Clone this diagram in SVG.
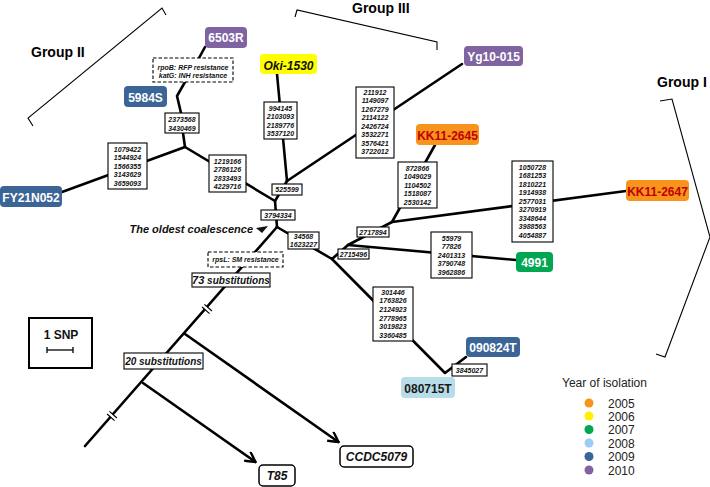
<svg xmlns="http://www.w3.org/2000/svg" width="710" height="487" viewBox="0 0 710 487">
<defs>
<style>
text{font-family:"Liberation Sans",Arial,sans-serif;}
.br{fill:none;stroke:#000;stroke-width:1.1;}
.gl{font-size:14px;font-weight:bold;fill:#000;}
.e{fill:none;stroke:#000;stroke-width:2.6;stroke-linecap:round;stroke-linejoin:round;}
.b{fill:#fff;stroke:#000;stroke-width:1.1;}
.d{fill:#fff;stroke:#000;stroke-width:1.1;stroke-dasharray:3.5,2;}
.n{font-size:7px;font-weight:bold;font-style:italic;text-anchor:middle;fill:#111;}
.lab{font-size:12px;font-weight:bold;text-anchor:middle;fill:#fff;}
.sub{font-size:10px;font-weight:bold;font-style:italic;text-anchor:middle;fill:#111;}
.leg{font-size:12px;fill:#222;}
.pur{fill:#8064a2;}
.blu{fill:#3b6597;}
</style>
<marker id="arr" viewBox="0 0 12 12" refX="11" refY="6" markerWidth="12" markerHeight="12" markerUnits="userSpaceOnUse" orient="auto">
<path d="M1,0.5 L11,6 L1,11.5" fill="none" stroke="#000" stroke-width="2.4"/>
</marker>
</defs>
<rect width="710" height="487" fill="#fff"/>

<g id="brackets">
<polyline class="br" points="33,126 28,118 162,8 166,15"/>
<text class="gl" x="31" y="57">Group II</text>
<polyline class="br" points="295,17 297,10 437,42 437,50"/>
<text class="gl" x="352" y="13">Group III</text>
<polyline class="br" points="660,101 672,99 710,237 665,357 656,354"/>
<text class="gl" x="657" y="87">Group I</text>
</g>

<g id="connectors">
<polyline class="e" points="205,47 199,58"/>
<polyline class="e" points="185,82 177,96 181,113"/>
<polyline class="e" points="183,133 185,147"/>
<polyline class="e" points="185,147 62,192"/>
<polyline class="e" points="185,147 275,201"/>
<polyline class="e" points="277,74 287,181"/>
<polyline class="e" points="287,181 462,64"/>
<polyline class="e" points="287,181 275,201 277,227"/>
<polyline class="e" points="277,227 85,446"/>
<polyline class="e" points="277,227 332,259 348,245 392,222 435,145"/>
<polyline class="e" points="392,222 626,191"/>
<polyline class="e" points="348,245 516,260"/>
<polyline class="e" points="332,259 445,373 466,357"/>
<line class="e" x1="185" y1="334" x2="338.5" y2="442" marker-end="url(#arr)" stroke-linecap="butt"/>
<line class="e" x1="143" y1="383" x2="255.5" y2="462" marker-end="url(#arr)" stroke-linecap="butt"/>
<g transform="translate(207,309) rotate(131.24)">
<rect x="-1.6" y="-3" width="3.2" height="6" fill="#fff"/>
<line x1="-1.8" y1="-5" x2="-1.8" y2="5" stroke="#000" stroke-width="1.2"/>
<line x1="1.8" y1="-5" x2="1.8" y2="5" stroke="#000" stroke-width="1.2"/>
</g>
<g transform="translate(112,416) rotate(131.24)">
<rect x="-1.6" y="-3" width="3.2" height="6" fill="#fff"/>
<line x1="-1.8" y1="-5" x2="-1.8" y2="5" stroke="#000" stroke-width="1.2"/>
<line x1="1.8" y1="-5" x2="1.8" y2="5" stroke="#000" stroke-width="1.2"/>
</g>
</g>

<g id="snp-boxes">
<g id="b2373568"><rect class="b" x="165" y="113" width="34" height="20"/>
<text class="n" x="182" y="122">2373568</text><text class="n" x="182" y="130.5">3430469</text></g>
<g id="b1079422"><rect class="b" x="108" y="143" width="39" height="46"/>
<text class="n" x="127.5" y="151.5">1079422</text><text class="n" x="127.5" y="160">1544924</text><text class="n" x="127.5" y="168.5">1566355</text><text class="n" x="127.5" y="177">3143629</text><text class="n" x="127.5" y="185.5">3659093</text></g>
<g id="b1219166"><rect class="b" x="209" y="155" width="37" height="37"/>
<text class="n" x="227.5" y="163.5">1219166</text><text class="n" x="227.5" y="172">2786126</text><text class="n" x="227.5" y="180.5">2833493</text><text class="n" x="227.5" y="189">4229716</text></g>
<g id="b994145"><rect class="b" x="264" y="102" width="33" height="37"/>
<text class="n" x="280.5" y="110.5">994145</text><text class="n" x="280.5" y="119">2103093</text><text class="n" x="280.5" y="127.5">2189776</text><text class="n" x="280.5" y="136">3537120</text></g>
<g id="b211912"><rect class="b" x="356" y="87" width="38" height="71"/>
<text class="n" x="375" y="94.5">211912</text><text class="n" x="375" y="103">1149097</text><text class="n" x="375" y="111.5">1267279</text><text class="n" x="375" y="120">2114122</text><text class="n" x="375" y="128.5">2426724</text><text class="n" x="375" y="137">3532271</text><text class="n" x="375" y="145.5">3576421</text><text class="n" x="375" y="154">3722012</text></g>
<g id="b525599"><rect class="b" x="272" y="184" width="30" height="11"/>
<text class="n" x="287" y="192">525599</text></g>
<g id="b3794334"><rect class="b" x="261" y="210" width="34" height="10"/>
<text class="n" x="278" y="217.5">3794334</text></g>
<g id="b34568"><rect class="b" x="288" y="232" width="31" height="17"/>
<text class="n" x="303.5" y="238.5">34568</text><text class="n" x="303.5" y="247">1623227</text></g>
<g id="b2715496"><rect class="b" x="338" y="249" width="31" height="10"/>
<text class="n" x="353.5" y="256.5">2715496</text></g>
<g id="b2717894"><rect class="b" x="357" y="227" width="32" height="10"/>
<text class="n" x="373" y="234.5">2717894</text></g>
<g id="b872866"><rect class="b" x="398" y="162" width="39" height="46"/>
<text class="n" x="417.5" y="170.5">872866</text><text class="n" x="417.5" y="179">1049029</text><text class="n" x="417.5" y="187.5">1104502</text><text class="n" x="417.5" y="196">1518087</text><text class="n" x="417.5" y="204.5">2530142</text></g>
<g id="b1050728"><rect class="b" x="512" y="161" width="41" height="81"/>
<text class="n" x="532.5" y="169.5">1050728</text><text class="n" x="532.5" y="178">1681253</text><text class="n" x="532.5" y="186.5">1810221</text><text class="n" x="532.5" y="195">1914938</text><text class="n" x="532.5" y="203.5">2577031</text><text class="n" x="532.5" y="212">3270919</text><text class="n" x="532.5" y="220.5">3348644</text><text class="n" x="532.5" y="229">3988563</text><text class="n" x="532.5" y="237.5">4054887</text></g>
<g id="b55979"><rect class="b" x="431" y="232" width="41" height="46"/>
<text class="n" x="451.5" y="240.5">55979</text><text class="n" x="451.5" y="249">77826</text><text class="n" x="451.5" y="257.5">2401313</text><text class="n" x="451.5" y="266">3790748</text><text class="n" x="451.5" y="274.5">3962886</text></g>
<g id="b301446"><rect class="b" x="373" y="287" width="40" height="54"/>
<text class="n" x="393" y="294.5">301446</text><text class="n" x="393" y="303.2">1763826</text><text class="n" x="393" y="311.9">2124923</text><text class="n" x="393" y="320.6">2778965</text><text class="n" x="393" y="329.3">3019823</text><text class="n" x="393" y="338">3360485</text></g>
<g id="b3845027"><rect class="b" x="452" y="364" width="35" height="12"/>
<text class="n" x="469.5" y="372.5">3845027</text></g>
</g>

<g id="annotations">
<g id="resist1"><rect class="d" x="153" y="58" width="80" height="24"/>
<text class="n" x="193" y="69.5">rpoB: RFP resistance</text><text class="n" x="193" y="77.5">katG: INH resistance</text></g>
<g id="resist2"><rect class="d" x="208" y="252" width="75" height="15"/>
<text class="n" x="245.5" y="262">rpsL: SM resistance</text></g>
<g id="sub73"><rect class="b" x="192" y="273" width="78" height="14"/>
<text class="sub" x="231" y="283.5"><tspan font-size="11">73</tspan> substitutions</text></g>
<g id="sub20"><rect class="b" x="124" y="353" width="79" height="16"/>
<text class="sub" x="163.5" y="364.5">20 substitutions</text></g>
<g id="oldest"><text x="253" y="232.5" font-size="11" font-weight="bold" font-style="italic" text-anchor="end" fill="#111">The oldest coalescence</text>
<polygon points="256,228 268,226 262,233" fill="#111"/></g>
<g id="scale"><rect x="29" y="318" width="63" height="50" fill="#fff" stroke="#000" stroke-width="2"/>
<text x="61" y="339" font-size="12" font-weight="bold" text-anchor="middle" fill="#111">1 SNP</text>
<line x1="47" y1="350" x2="73" y2="350" stroke="#000" stroke-width="1.3"/>
<line x1="47" y1="347" x2="47" y2="353" stroke="#000" stroke-width="1.3"/>
<line x1="73" y1="347" x2="73" y2="353" stroke="#000" stroke-width="1.3"/></g>
</g>

<g id="n6503R"><rect class="pur" x="205" y="27" width="42" height="21" rx="4"/><text class="lab" x="226" y="42">6503R</text></g>
<g id="n5984S"><rect class="blu" x="124" y="86" width="43" height="21" rx="4"/><text class="lab" x="145.5" y="101.5">5984S</text></g>
<g id="nFY21N052"><rect class="blu" x="0" y="186" width="62" height="21" rx="4"/><text class="lab" x="31" y="201.5">FY21N052</text></g>
<g id="nOki1530"><rect x="260" y="54" width="57" height="20" rx="4" fill="#ffff00"/><text class="lab" x="288.5" y="69.5" fill="#111" font-style="italic" style="fill:#111">Oki-1530</text></g>
<g id="nYg10015"><rect class="pur" x="464" y="46" width="59" height="20" rx="4"/><text class="lab" x="493.5" y="60.5">Yg10-015</text></g>
<g id="nKK112645"><rect x="416" y="124" width="63" height="21" rx="4" fill="#f7941d"/><text class="lab" x="447.5" y="139.5" style="fill:#c00000">KK11-2645</text></g>
<g id="nKK112647"><rect x="626" y="180" width="63" height="21" rx="4" fill="#f7941d"/><text class="lab" x="657.5" y="195.5" style="fill:#c00000">KK11-2647</text></g>
<g id="n4991"><rect x="516" y="252" width="37" height="20" rx="4" fill="#00a651"/><text class="lab" x="534.5" y="266.5">4991</text></g>
<g id="n090824T"><rect class="blu" x="466" y="337" width="54" height="20" rx="4"/><text class="lab" x="493" y="351.5">090824T</text></g>
<g id="n080715T"><rect x="401" y="377" width="54" height="21" rx="4" fill="#b7dde8"/><text class="lab" x="428" y="392.5" style="fill:#1a1a1a">080715T</text></g>
<g id="nCCDC5079"><rect x="340" y="446" width="73" height="21" rx="4" fill="#fff" stroke="#000" stroke-width="1.5"/><text class="lab" x="376.5" y="461" font-style="italic" style="fill:#111">CCDC5079</text></g>
<g id="nT85"><rect x="259" y="465" width="36" height="21" rx="4" fill="#fff" stroke="#000" stroke-width="1.5"/><text class="lab" x="277" y="480" font-style="italic" style="fill:#111">T85</text></g>

<g id="legend">
<text class="leg" x="562" y="387">Year of isolation</text>
<circle cx="589" cy="403" r="4.5" fill="#f7941d"/><text class="leg" x="608" y="407.5">2005</text>
<circle cx="589" cy="416" r="4.5" fill="#fff200"/><text class="leg" x="608" y="420.5">2006</text>
<circle cx="589" cy="429.5" r="4.5" fill="#00a651"/><text class="leg" x="608" y="434">2007</text>
<circle cx="589" cy="443" r="4.5" fill="#9dcdf5"/><text class="leg" x="608" y="447.5">2008</text>
<circle cx="589" cy="456.5" r="4.5" fill="#3b6597"/><text class="leg" x="608" y="461">2009</text>
<circle cx="589" cy="470" r="4.5" fill="#8064a2"/><text class="leg" x="608" y="474.5">2010</text>
</g>
</svg>
